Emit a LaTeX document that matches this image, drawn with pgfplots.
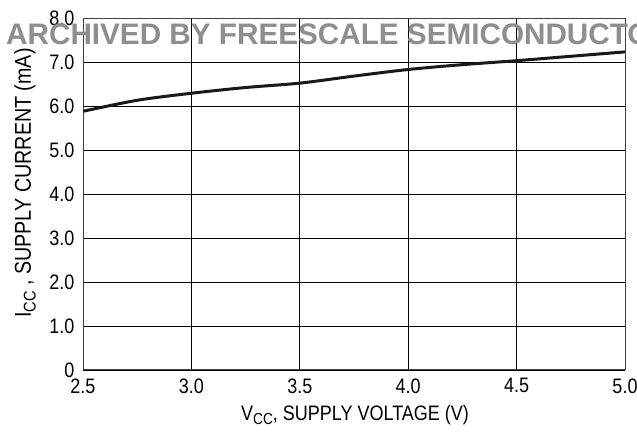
\documentclass[border=0pt]{standalone}
\usepackage{fontspec}
\setmainfont{Liberation Sans}[FakeStretch=0.86]
\newfontfamily\wmfont{Liberation Sans}
\usepackage{pgfplots}
\pgfplotsset{compat=1.18}
\definecolor{wmgray}{HTML}{8E8E8E}
\newcommand\cc[1]{\raisebox{-0.4ex}{\fontsize{#1}{#1}\selectfont CC}}
\begin{document}
\begin{tikzpicture}
\path[use as bounding box] (0,0) rectangle (637bp,433bp);
\clip (0,0) rectangle (637bp,433bp);
\begin{axis}[
  at={(83bp,63bp)}, anchor=south west,
  scale only axis, width=542bp, height=352bp,
  xmin=2.5, xmax=5, ymin=0, ymax=8,
  xtick={2.5,3.0,3.5,4.0,4.5,5.0},
  xticklabels={2.5,3.0,3.5,4.0,4.5,5.0},
  ytick={0,1,2,3,4,5,6,7,8},
  yticklabels={0,1.0,2.0,3.0,4.0,5.0,6.0,7.0,8.0},
  /pgf/number format/assume math mode=true,
  grid=major,
  major grid style={black, line width=0.8bp},
  axis line style={line width=1bp, black!75},
  tick style={draw=none},
  ticklabel style={font=\fontsize{21}{21}\selectfont},
  xticklabel style={yshift=-5bp},
  yticklabel style={xshift=-5bp},
]
\addplot[line width=3bp, color=black!90, smooth] coordinates {
 (2.5,5.88) (2.75,6.13) (3.0,6.29) (3.25,6.42) (3.5,6.52) (3.75,6.68) (4.0,6.83) (4.25,6.94) (4.5,7.03) (4.75,7.13) (5.0,7.23)
};
\end{axis}
\node[anchor=base west, text=wmgray, inner sep=0pt] at (6bp,388bp) {\wmfont\bfseries\fontsize{29.8}{30}\selectfont ARCHIVED BY FREESCALE SEMICONDUCTOR};
\node[anchor=center, inner sep=0pt] at (355bp,18bp) {\fontsize{21}{21}\selectfont V\cc{16}, SUPPLY VOLTAGE (V)};
\node[anchor=center, inner sep=0pt, rotate=90] at (25bp,250bp) {\fontsize{23}{23}\selectfont I\cc{17}\ , SUPPLY CURRENT (mA)};
\end{tikzpicture}
\end{document}
